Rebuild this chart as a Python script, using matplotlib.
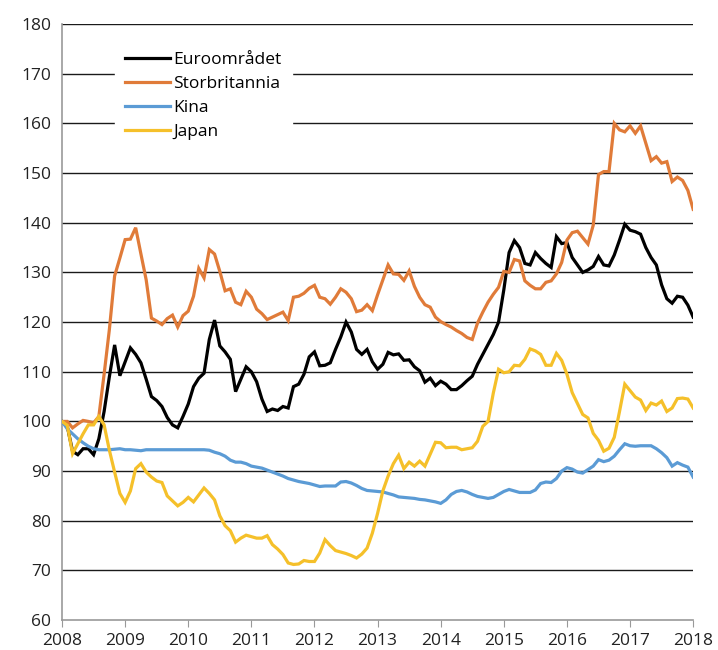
import numpy as np
import matplotlib
matplotlib.use("Agg")
import matplotlib.pyplot as plt

plt.rcParams['font.family'] = ['Open Sans', 'DejaVu Sans']

labels = ["Euroområdet", "Storbritannia", "Kina", "Japan"]
colors = ["#000000", "#e07b39", "#5b9bd5", "#f5c02a"]

euro = [100, 99, 94, 93.3, 94.5, 94.5, 93.3, 96.5, 102, 109, 115.4, 109.2,
        112, 114.8, 113.5, 111.8, 108.5, 105, 104.2, 103, 100.8, 99.3, 98.7, 101,
        103.5, 107, 108.7, 109.7, 116.5, 120.4, 115.2, 114, 112.5, 106, 108.5, 111,
        110, 108, 104.5, 102, 102.5, 102.2, 103, 102.7, 107, 107.5, 109.5, 113,
        114, 111.2, 111.3, 111.8, 114.5, 117, 120, 118, 114.5, 113.5, 114.5, 112,
        110.5, 111.5, 113.9, 113.4, 113.6, 112.3, 112.4, 111, 110.2, 107.9, 108.7, 107.2,
        108.1, 107.5, 106.4, 106.4, 107.2, 108.2, 109.1, 111.5, 113.5, 115.5, 117.5, 120,
        126.5, 134, 136.4, 135, 131.8, 131.5, 134, 132.8, 131.8, 131, 137.2, 135.8,
        136, 133, 131.5, 130, 130.5, 131.2, 133.2, 131.5, 131.3, 133.5, 136.5, 139.7,
        138.5, 138.2, 137.7, 135, 133, 131.5, 127.5, 124.7, 123.8, 125.2, 125, 123.4,
        121]

uk = [100, 100, 98.7, 99.5, 100.2, 100, 99.7, 101, 109.5, 118.5, 129.3, 132.9,
      136.6, 136.7, 139, 133.7, 128.5, 120.8, 120.2, 119.5, 120.7, 121.4, 119, 121.3,
      122.2, 125.2, 130.8, 128.9, 134.6, 133.7, 130.2, 126.3, 126.7, 124, 123.5, 126.2,
      125, 122.6, 121.7, 120.5, 121, 121.5, 122, 120.3, 125, 125.2, 125.8, 126.8,
      127.4, 125, 124.7, 123.6, 125, 126.7, 126, 124.7, 122.1, 122.4, 123.5, 122.3,
      125.5, 128.5, 131.5, 129.7, 129.6, 128.4, 130.3, 127.2, 125, 123.5, 123, 121,
      120.1, 119.5, 119, 118.3, 117.7, 116.9, 116.5, 119.8, 122, 124, 125.6, 127,
      130.2, 130, 132.6, 132.3, 128.3, 127.4, 126.7, 126.7, 128, 128.3, 129.7, 132,
      136.5, 138, 138.3, 137, 135.7, 139.5, 149.7, 150.3, 150.3, 160, 158.7, 158.3,
      159.5, 158, 159.5, 156, 152.5, 153.3, 152, 152.3, 148.3, 149.2, 148.5, 146.5,
      142.7]

kina = [100, 98.5, 97.5, 96.5, 95.7, 95, 94.5, 94.3, 94.3, 94.3, 94.4, 94.5,
        94.3, 94.3, 94.2, 94.1, 94.3, 94.3, 94.3, 94.3, 94.3, 94.3, 94.3, 94.3,
        94.3, 94.3, 94.3, 94.3, 94.2, 93.8, 93.5, 93, 92.2, 91.8, 91.8, 91.5,
        91, 90.8, 90.6, 90.2, 89.8, 89.4, 89, 88.5, 88.2, 87.9, 87.7, 87.5,
        87.2, 86.9, 87, 87, 87, 87.8, 87.9, 87.6, 87.1, 86.5, 86.1, 86,
        85.9, 85.8, 85.5, 85.2, 84.8, 84.7, 84.6, 84.5, 84.3, 84.2, 84, 83.8,
        83.5, 84.2, 85.3, 85.9, 86.1, 85.8, 85.3, 84.9, 84.7, 84.5, 84.7, 85.3,
        85.9, 86.3, 86, 85.7, 85.7, 85.7, 86.2, 87.5, 87.8, 87.7, 88.5, 90,
        90.7, 90.4, 89.8, 89.6, 90.3, 91, 92.3, 91.9, 92.2, 93, 94.3, 95.5,
        95.1, 95, 95.1, 95.1, 95.1, 94.5, 93.7, 92.7, 91, 91.7, 91.2, 90.8,
        88.8]

japan = [100, 99.2, 93.5, 95.5, 97.5, 99.3, 99.3, 101, 99.3, 94.2, 89.8, 85.5,
         83.7, 86, 90.5, 91.5, 89.8, 88.8, 88, 87.7, 85, 84, 83, 83.7,
         84.7, 83.8, 85.2, 86.6, 85.5, 84.2, 81, 79, 78, 75.7, 76.5, 77.1,
         76.8, 76.5, 76.5, 77, 75.2, 74.3, 73.2, 71.5, 71.2, 71.3, 72, 71.8,
         71.8, 73.5, 76.2, 75, 74, 73.7, 73.4, 73, 72.5, 73.3, 74.5, 77.5,
         81.5, 86, 89, 91.5, 93.2, 90.5, 91.8, 91, 92, 91, 93.4, 95.8,
         95.7, 94.7, 94.8, 94.8, 94.3, 94.5, 94.7, 96, 99, 100, 105.7, 110.5,
         109.8, 110, 111.3, 111.2, 112.5, 114.6, 114.2, 113.5, 111.3, 111.3, 113.7, 112.3,
         109.5, 105.8, 103.6, 101.4, 100.7, 97.6, 96.2, 94, 94.6, 96.8, 102, 107.5,
         106.2, 104.9, 104.3, 102.2, 103.7, 103.3, 104.1, 102, 102.7, 104.6, 104.7, 104.5,
         102.7]

years = list(range(2008, 2019))
yticks = list(range(60, 181, 10))

series = [euro, uk, kina, japan]
n = len(euro)
x = 2008 + np.arange(n) / 12.0

fig = plt.figure(figsize=(7.18, 6.5), dpi=100)
ax = fig.add_axes([0.0864, 0.046, 0.879, 0.917])

for yv in yticks[1:]:
    ax.axhline(yv, color="#1a1a1a", lw=1.0, zorder=1)

for s, lab, c in zip(series, labels, colors):
    ax.plot(x, s, color=c, lw=2.3, label=lab, zorder=3, solid_joinstyle='miter')

ax.set_xlim(2008, 2018)
ax.set_ylim(60, 180)
ax.set_xticks(years)
ax.set_xticklabels([str(y) for y in years])
ax.set_yticks(yticks)
ax.tick_params(axis='y', length=0, pad=8, labelsize=12.5, labelcolor="#222222")
ax.tick_params(axis='x', length=5, color="#999999", direction='out', pad=4,
               labelsize=12.5, labelcolor="#222222")
for side in ["top", "right"]:
    ax.spines[side].set_visible(False)
for side in ["left", "bottom"]:
    ax.spines[side].set_color("#999999")
    ax.spines[side].set_linewidth(1.2)

leg = ax.legend(loc="upper left", bbox_to_anchor=(0.07, 0.985), frameon=True,
                fontsize=12.5, handlelength=2.6, handletextpad=0.15,
                labelspacing=0.45, borderpad=0.6, fancybox=False)
leg.get_frame().set_facecolor("white")
leg.get_frame().set_edgecolor("white")
leg.get_frame().set_alpha(1)
leg.set_zorder(5)

fig.savefig("out.png", dpi=100)
